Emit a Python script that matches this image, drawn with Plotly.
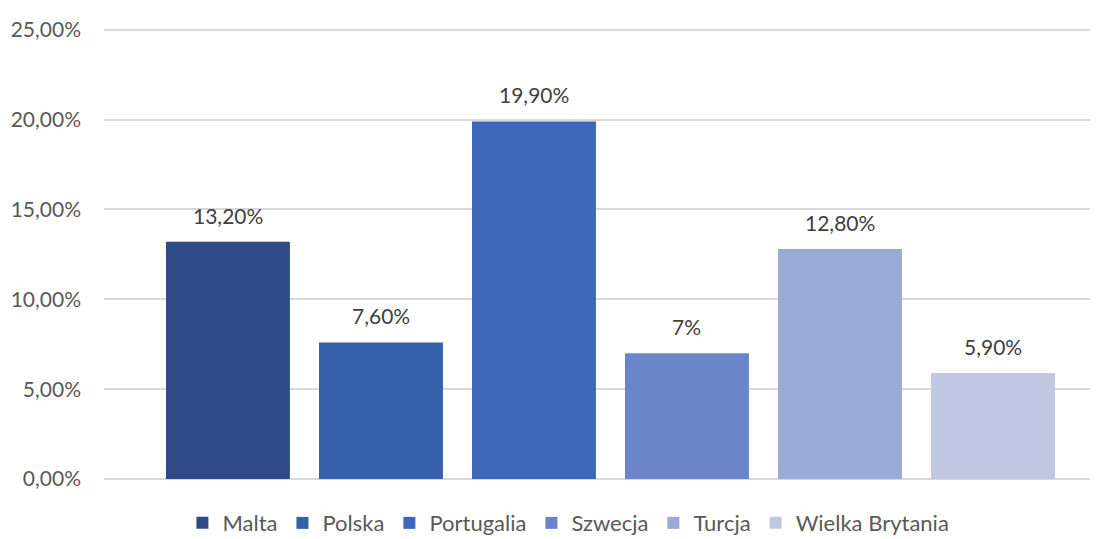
import plotly.graph_objects as go

countries = ["Malta", "Polska", "Portugalia", "Szwecja", "Turcja", "Wielka Brytania"]
values = [0.132, 0.076, 0.199, 0.07, 0.128, 0.059]
labels = ["13,20%", "7,60%", "19,90%", "7%", "12,80%", "5,90%"]
colors = ["#2e4b88", "#3560aa", "#3d67b9", "#6a86c8", "#9aaad6", "#bfc7e3"]
tick_vals = [0, 0.05, 0.10, 0.15, 0.20, 0.25]

FONT = "Lato"
fig = go.Figure()
for name, v, c in zip(countries, values, colors):
    fig.add_trace(go.Bar(
        x=[name], y=[v], name=name, width=0.81,
        marker=dict(color=c, line=dict(width=0)),
    ))

for name, v, lab in zip(countries, values, labels):
    fig.add_annotation(x=name, y=v, text=lab, showarrow=False,
                       yanchor="bottom", yshift=12,
                       font=dict(family=FONT, size=21, color="#404040"))

fig.update_layout(
    width=1095, height=531,
    margin=dict(l=96, r=13, t=20, b=60, autoexpand=False),
    paper_bgcolor="white", plot_bgcolor="white",
    barmode="overlay",
    separators=",.",
    showlegend=True,
    legend=dict(orientation="h", x=0.471, xanchor="center",
                yref="container", y=0.03, yanchor="middle",
                font=dict(family=FONT, size=22, color="#595959"),
                itemwidth=30, traceorder="normal", tracegroupgap=0),
    xaxis=dict(range=[-0.81, 5.634], showticklabels=False, showgrid=False,
               zeroline=False, showline=False),
    yaxis=dict(range=[0, 0.251], tickvals=tick_vals, tickformat=".2%",
               showgrid=True, gridcolor="#d9d9d9", gridwidth=1.5,
               zeroline=True, zerolinecolor="#d9d9d9", zerolinewidth=1.5,
               showline=False, ticks="", ticklabelstandoff=22,
               tickfont=dict(family=FONT, size=21, color="#595959")),
)
fig.write_html("out.html")
